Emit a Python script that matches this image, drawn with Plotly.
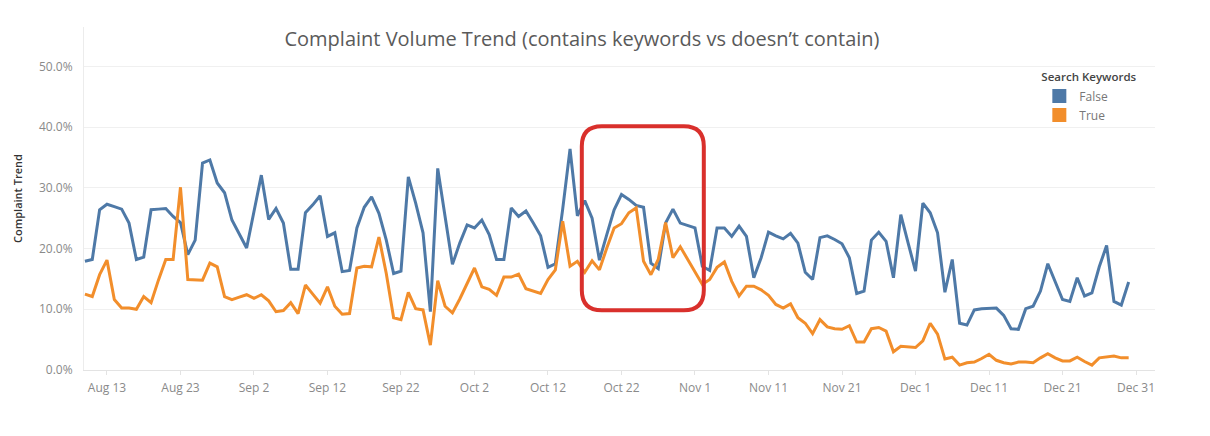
import pandas as pd
import plotly.graph_objects as go

# ---- data (percent values, one per day, 2019-08-10 .. 2019-12-30) ----
start_date = "2019-08-10"
end_date = "2019-12-30"

false_aug = [17.9, 18.2, 26.4, 27.3, 26.9, 26.5, 24.2, 18.2, 18.6, 26.4, 26.5, 26.6, 25.3, 24.3, 19.0, 21.4,
             34.1, 34.6, 30.8, 29.2, 24.7, 22.5]
false_sep = [20.1, 26.1, 32.1, 24.8, 26.6, 24.2, 16.6, 16.6, 25.9, 27.2, 28.7, 22.0, 22.6, 16.2, 16.4, 23.4,
             26.8, 28.5, 25.8, 21.4, 15.9, 16.3, 31.8, 27.5, 22.6, 9.6, 33.2, 25.3, 17.4, 20.9]
false_oct = [23.9, 23.4, 24.7, 22.3, 18.2, 18.2, 26.7, 25.3, 26.2, 24.2, 22.1, 16.9, 17.5, 26.5, 36.4, 25.4,
             27.9, 25.0, 18.1, 22.3, 26.4, 28.9, 28.1, 27.1, 26.8, 17.6, 16.7, 24.2, 26.5, 24.2, 23.8]
false_nov = [23.4, 17.1, 16.4, 23.4, 23.4, 22.0, 23.7, 22.0, 15.2, 18.5, 22.7, 22.1, 21.6, 22.5, 20.9, 16.1,
             14.9, 21.8, 22.1, 21.5, 20.8, 18.5, 12.6, 13.0, 21.4, 22.7, 21.2, 15.2, 25.6, 20.9]
false_dec = [16.3, 27.5, 25.9, 22.6, 12.8, 18.2, 7.7, 7.4, 9.9, 10.1, 10.1, 10.2, 9.0, 6.8, 6.7, 10.1,
             10.5, 13.0, 17.5, 14.6, 11.6, 11.3, 15.2, 12.2, 12.7, 17.0, 20.5, 11.3, 10.7, 14.5]

true_aug = [12.5, 12.1, 15.7, 18.1, 11.6, 10.2, 10.2, 10.0, 12.1, 11.1, 14.8, 18.2, 18.2, 30.1, 14.9, 14.9,
            14.8, 17.6, 17.0, 12.1, 11.6, 12.0]
true_sep = [12.4, 11.8, 12.4, 11.4, 9.6, 9.8, 11.1, 9.3, 14.0, 12.5, 11.0, 13.7, 10.5, 9.2, 9.3, 16.8,
            17.1, 17.0, 21.9, 15.9, 8.6, 8.3, 12.8, 10.1, 9.9, 4.1, 14.7, 10.5, 9.4, 11.7]
true_oct = [14.4, 16.8, 13.7, 13.3, 12.3, 15.3, 15.3, 15.8, 13.4, 13.0, 12.6, 14.9, 16.5, 24.5, 17.1, 17.9,
            16.1, 18.0, 16.5, 20.1, 23.4, 24.1, 25.9, 26.7, 17.9, 15.7, 18.2, 24.3, 18.5, 20.3, 18.2]
true_nov = [16.1, 14.1, 14.9, 16.9, 17.8, 14.6, 12.2, 13.8, 13.8, 13.2, 12.3, 10.8, 10.2, 10.9, 8.6, 7.7,
            6.0, 8.3, 7.1, 6.8, 6.7, 7.3, 4.6, 4.6, 6.8, 7.0, 6.4, 3.0, 3.9, 3.8]
true_dec = [3.7, 4.8, 7.7, 5.9, 1.8, 2.1, 0.8, 1.2, 1.3, 1.9, 2.6, 1.6, 1.2, 1.0, 1.3, 1.3,
            1.2, 2.0, 2.7, 2.0, 1.5, 1.5, 2.1, 1.4, 0.8, 2.0, 2.2, 2.3, 2.0, 2.0]

tick_dates = ["2019-08-13", "2019-08-23", "2019-09-02", "2019-09-12", "2019-09-22", "2019-10-02",
              "2019-10-12", "2019-10-22", "2019-11-01", "2019-11-11", "2019-11-21", "2019-12-01",
              "2019-12-11", "2019-12-21", "2019-12-31"]
y_ticks = [0, 0.1, 0.2, 0.3, 0.4, 0.5]

series_names = ["False", "True"]
series_colors = ["#4e79a7", "#f28e2b"]

dates = pd.date_range(start_date, end_date, freq="D")
false_vals = [v / 100 for v in false_aug + false_sep + false_oct + false_nov + false_dec]
true_vals = [v / 100 for v in true_aug + true_sep + true_oct + true_nov + true_dec]

FONT = "Open Sans"

fig = go.Figure()
for name, vals, col in zip(series_names, [false_vals, true_vals], series_colors):
    fig.add_trace(go.Scatter(x=dates, y=vals, mode="lines", name=name,
                             line=dict(color=col, width=3), showlegend=False,
                             hovertemplate="%{x|%b %-d}: %{y:.1%}<extra>" + name + "</extra>"))
# legend swatches (square)
for name, col in zip(series_names, series_colors):
    fig.add_trace(go.Scatter(x=[None], y=[None], mode="markers", name=name,
                             marker=dict(symbol="square", size=14, color=col)))

# red rounded highlight box (pixel-sized, anchored at a data position)
hw, hh, r = 61, 92, 20
path = (f"M {-hw},{-hh + r} L {-hw},{hh - r} Q {-hw},{hh} {-hw + r},{hh} "
        f"L {hw - r},{hh} Q {hw},{hh} {hw},{hh - r} L {hw},{-hh + r} "
        f"Q {hw},{-hh} {hw - r},{-hh} L {-hw + r},{-hh} Q {-hw},{-hh} {-hw},{-hh + r} Z")
fig.add_shape(type="path", xref="x", yref="y", xsizemode="pixel", ysizemode="pixel",
              xanchor="2019-10-24 21:36", yanchor=0.25, path=path,
              line=dict(color="#d9302c", width=4))

fig.update_layout(
    width=1210, height=436,
    margin=dict(l=84, r=55, t=27, b=66),
    paper_bgcolor="white", plot_bgcolor="white",
    font=dict(family=FONT, color="#888888", size=12),
    title=dict(text="Complaint Volume Trend (contains keywords vs doesn\u2019t contain)",
               x=0.481, xanchor="center", y=0.91, yanchor="middle",
               font=dict(family=FONT, size=20, color="#5a5a5a")),
    legend=dict(x=0.892, y=0.885, xanchor="left", yanchor="top",
                bgcolor="rgba(255,255,255,0)",
                font=dict(family=FONT, size=12, color="#777777"),
                title=dict(text="Search Keywords", font=dict(family=FONT, size=11.5, color="#444444", weight=600)),
                tracegroupgap=0, itemwidth=30),
    showlegend=True,
)
fig.update_xaxes(range=["2019-08-09 21:00", "2020-01-02 14:00"],
                 tickvals=tick_dates, tickformat="%b %-d",
                 showgrid=False, showline=True, linecolor="#e3e3e3", linewidth=1,
                 ticks="outside", ticklen=4, tickcolor="#e3e3e3", ticklabelstandoff=3,
                 tickfont=dict(size=12, color="#8a8a8a"), zeroline=False)
fig.update_yaxes(range=[0, 0.565], tickvals=y_ticks, tickformat=".1%",
                 showgrid=True, gridcolor="#f0f0f0", gridwidth=1,
                 showline=True, linecolor="#ececec", zeroline=False,
                 ticklabelstandoff=8,
                 tickfont=dict(size=12, color="#8a8a8a"),
                 title=dict(text="Complaint Trend", standoff=14,
                            font=dict(family=FONT, size=11, color="#333333", weight=600)))

fig.write_html("out.html")
